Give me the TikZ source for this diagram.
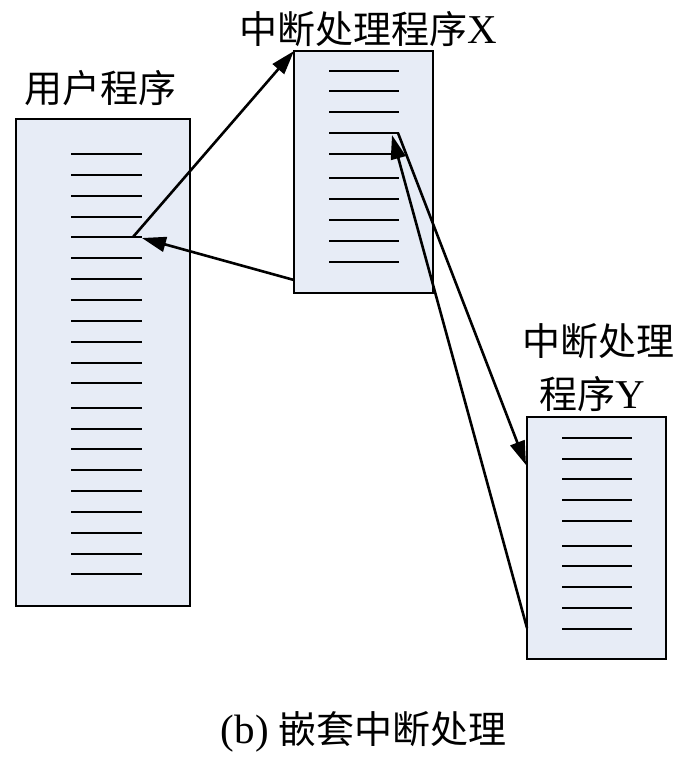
\documentclass[tikz,border=0pt]{standalone}
\usepackage{fontspec}
\setmainfont{Liberation Serif}
\newfontfamily\cjk{Noto Sans CJK SC}
\usetikzlibrary{arrows.meta}
\definecolor{boxfill}{HTML}{E7ECF6}
\tikzset{
  progbox/.style={draw=black, line width=1.3pt, fill=boxfill, inner sep=0pt},
  codeline/.style={line width=1.2pt, black},
  callarrow/.style={line width=2.6pt, -{Triangle[length=24pt,width=15pt]}},
  lbl/.style={anchor=base, inner sep=0pt, font=\fontsize{38}{44}\selectfont}
}
\begin{document}
\begin{tikzpicture}[x=1pt,y=-1pt]
\useasboundingbox (0,0) rectangle (694,761);
% boxes
\node[progbox, minimum width=174pt, minimum height=487pt] (A) at (103,362.5) {};
\node[progbox, minimum width=139pt, minimum height=242pt] (X) at (363.5,172) {};
\node[progbox, minimum width=139pt, minimum height=242pt] (Y) at (596.5,538) {};
% code lines
\foreach \yy in {154,175,196,217,237,258,279,300,321,342,363,383,408,429,449,470,491,512,533,554,574}
  \draw[codeline] (71,\yy) -- (142,\yy);
\foreach \yy in {71,91,112,133,154,178,199,220,241,262}
  \draw[codeline] (329,\yy) -- (399,\yy);
\foreach \yy in {438,459,479,500,521,546,566,587,608,629}
  \draw[codeline] (562,\yy) -- (632,\yy);
% labels
\node[lbl] (tA) at (100,102) {{\cjk 用户程序}};
\node[lbl] (tX) at (368.5,43) {{\cjk 中断处理程序}{\fontsize{41}{44}\selectfont X}};
\node[lbl] (tY1) at (598,355) {{\cjk 中断处理}};
\node[lbl] (tY2) at (592.5,408) {{\cjk 程序}{\fontsize{41}{44}\selectfont Y}};
\node[lbl] (cap) at (363.5,743) {{\fontsize{41}{44}\selectfont (b)} {\cjk 嵌套中断处理}};
% arrow endpoints
\coordinate (a1s) at (133,237);
\coordinate (a1e) at (294,51);
\coordinate (a2s) at (294,280);
\coordinate (a2e) at (142,238);
\coordinate (a3s) at (398,133);
\coordinate (a3e) at (526,465);
\coordinate (a4s) at (527,628);
\coordinate (a4e) at (392,135);
\draw[callarrow] (a1s) -- (a1e);
\draw[callarrow] (a2s) -- (a2e);
\draw[callarrow] (a3s) -- (a3e);
\draw[callarrow] (a4s) -- (a4e);
\end{tikzpicture}
\end{document}
